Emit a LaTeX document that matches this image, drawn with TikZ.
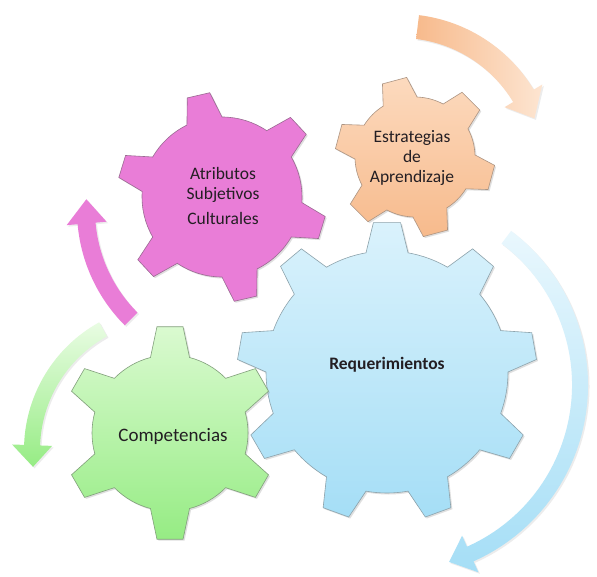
\documentclass[tikz,border=0pt]{standalone}
\usepackage{fontspec}
\setmainfont{Carlito}
\usepackage{tikz}
\usetikzlibrary{shadows}

\definecolor{pinkcog}{RGB}{233,125,215}
\definecolor{orangetop}{RGB}{252,218,190}
\definecolor{orangebot}{RGB}{247,186,140}
\definecolor{bluetop}{RGB}{218,242,252}
\definecolor{bluebot}{RGB}{165,222,246}
\definecolor{greentop}{RGB}{218,250,208}
\definecolor{greenbot}{RGB}{150,236,132}
\definecolor{txt}{RGB}{35,30,35}

\tikzset{
  cogwheel/.style={draw=#1, line width=0.6pt, line join=miter,
    drop shadow={opacity=0.25, shadow xshift=1.5pt, shadow yshift=-1.5pt}},
  curvearrow/.style={draw=none,
    drop shadow={opacity=0.15, shadow xshift=1.5pt, shadow yshift=-1.5pt}},
  cogtext/.style={text=txt, align=center, font=\fontsize{17.5}{20}\selectfont},
}

% style, centre, teeth, offset, inner r, outer R, base half angle, tip half angle
\newcommand{\cog}[8]{%
  \shade[#1, shift={(#2)}] ({#4-#7}:#5)
    \foreach \k in {1,...,#3}{
      -- ({#4+(\k-1)*360/#3-#8}:#6) -- ({#4+(\k-1)*360/#3+#8}:#6)
      -- ({#4+(\k-1)*360/#3+#7}:#5)
      arc[start angle={#4+(\k-1)*360/#3+#7}, end angle={#4+\k*360/#3-#7}, radius=#5]
    } -- cycle;}

% style, centre, radius, half width, start, head base, tip, head half width
\newcommand{\bendarrow}[8]{%
  \shade[#1, shift={(#2)}] ({#5}:{#3+#4})
    arc[start angle=#5, end angle=#6, radius={#3+#4}]
    -- ({#6}:{#3+#8}) -- ({#7}:{#3}) -- ({#6}:{#3-#8}) -- ({#6}:{#3-#4})
    arc[start angle=#6, end angle=#5, radius={#3-#4}] -- cycle;}

\begin{document}
\begin{tikzpicture}[x=1pt, y=1pt]
\fill[white] (0,0) rectangle (597,-577);
\useasboundingbox (0,0) rectangle (597,-577);

% curved arrows
\bendarrow{curvearrow, left color=orangebot, right color=orangetop!70!white}{400,-170}{144}{12}{83}{31}{21}{22}
\bendarrow{curvearrow, top color=bluetop!60!white, bottom color=bluebot}{395,-385}{185}{8}{53}{-66}{-73}{20}
\bendarrow{curvearrow, top color=pinkcog, bottom color=pinkcog}{240,-210}{154}{9}{225}{185}{176}{20}
\bendarrow{curvearrow, top color=greentop!60!white, bottom color=greenbot}{170,-450}{138}{8}{119}{178}{187}{20}

% gears
\cog{cogwheel=bluebot!55!black!70, top color=bluetop, bottom color=bluebot}{387,-372}{9}{90}{121}{150}{10}{5.2}
\cog{cogwheel=greenbot!50!black!70, top color=greentop, bottom color=greenbot}{170,-433}{6}{90}{78}{107}{14.5}{7}
\cog{cogwheel=pinkcog!55!black!80, top color=pinkcog, bottom color=pinkcog}{222,-197}{6}{103}{80}{105}{13}{6.3}
\cog{cogwheel=orangebot!55!black!70, top color=orangetop, bottom color=orangebot}{415,-157}{6}{105}{60}{80}{17}{9}

\coordinate (pinkc) at (223,-196);
\coordinate (orangec) at (412,-158);
\coordinate (bluec) at (387,-365);
\coordinate (greenc) at (173,-436);

\node[cogtext] (atributos) at (pinkc) {Atributos\\Subjetivos\\[5pt]Culturales};
\node[cogtext] (estrategias) at (orangec) {Estrategias\\de\\Aprendizaje};
\node[cogtext, font=\fontsize{17.5}{20}\selectfont\bfseries] (requerimientos) at (bluec) {Requerimientos};
\node[cogtext, font=\fontsize{19}{22}\selectfont] (competencias) at (greenc) {Competencias};
\end{tikzpicture}
\end{document}
